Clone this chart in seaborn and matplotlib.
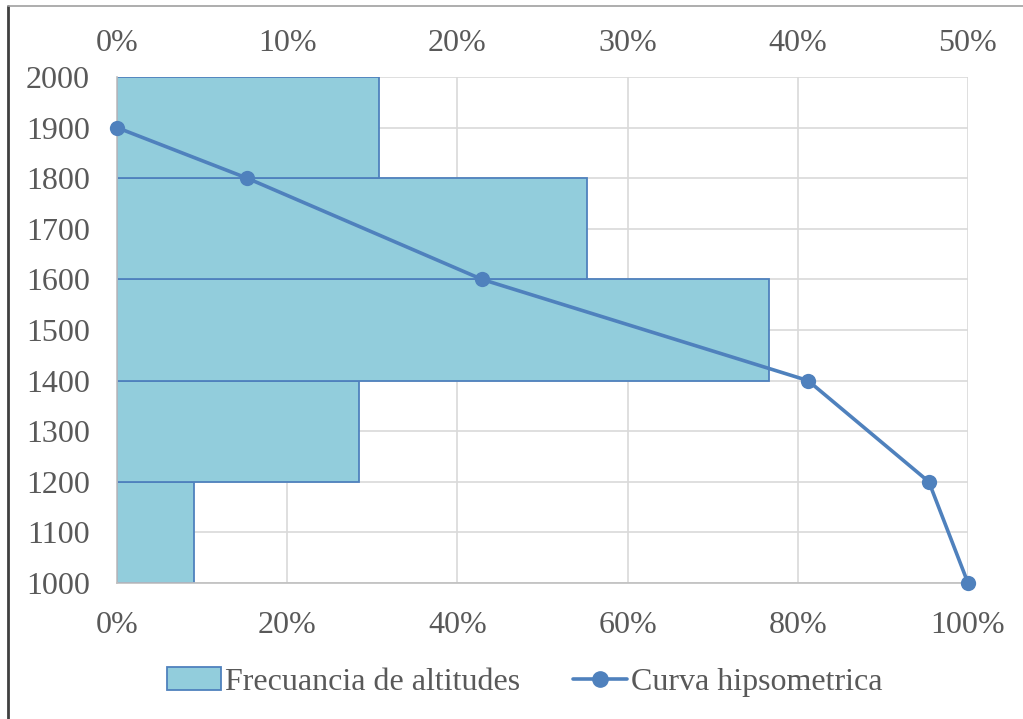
import numpy as np
import pandas as pd
import matplotlib.pyplot as plt
import seaborn as sns
from matplotlib.ticker import PercentFormatter
from matplotlib.patches import Patch
from matplotlib.lines import Line2D

# altitude classes (lower edge of each 200 m band) and share of area
alt_lower = [1000, 1200, 1400, 1600, 1800]
alt_upper = [1200, 1400, 1600, 1800, 2000]
frecuencia = [0.045, 0.142, 0.383, 0.276, 0.154]

# hypsometric curve points
curva_pct = [0.0, 0.153, 0.429, 0.812, 0.954, 1.0]
curva_alt = [1900, 1800, 1600, 1400, 1200, 1000]

bar_fill = '#92CDDC'
bar_edge = '#4F81BD'
line_col = '#4F81BD'
txt_col = '#595959'
grid_col = '#D9D9D9'
fs = 23

sns.set_theme(style='white')
plt.rcParams['font.family'] = ['Liberation Serif', 'DejaVu Serif']
plt.rcParams['text.color'] = txt_col

fig = plt.figure(figsize=(10.23, 7.19), dpi=100)
ax = fig.add_axes([117 / 1023, 1 - 583 / 719, (968 - 117) / 1023, (583 - 77) / 719])

# histogram of altitudes (horizontal, on the top 0-50% axis)
mids = [(a + b) / 2 for a, b in zip(alt_lower, alt_upper)]
bins = alt_lower + [alt_upper[-1]]
df_bars = pd.DataFrame({'alt': mids, 'freq': frecuencia})
sns.histplot(data=df_bars, y='alt', weights='freq', bins=bins, ax=ax,
             color=bar_fill, edgecolor=bar_edge, linewidth=1.3, alpha=1)
ax.set_xlim(0, 0.5)
ax.set_ylim(1000, 2000)
ax.set_yticks(np.arange(1000, 2001, 100))
ax.set_xticks(np.arange(0, 0.51, 0.1))
ax.xaxis.set_major_formatter(PercentFormatter(1.0, decimals=0))
ax.set_xlabel('')
ax.set_ylabel('')
ax.set_axisbelow(True)
ax.grid(True, color=grid_col, linewidth=1.2)
for s in ['top', 'right']:
    ax.spines[s].set_visible(False)
for s in ['left', 'bottom']:
    ax.spines[s].set_color('#BFBFBF')
    ax.spines[s].set_linewidth(1.2)

# hypsometric curve on the bottom 0-100% axis
ax2 = ax.twiny()
df_line = pd.DataFrame({'pct': curva_pct, 'alt': curva_alt})
sns.lineplot(data=df_line, x='pct', y='alt', ax=ax2, color=line_col,
             linewidth=2.6, marker='o', markersize=11, markeredgewidth=0,
             sort=False, estimator=None, clip_on=False)
ax2.set_xlim(0, 1)
ax2.set_ylim(1000, 2000)
ax2.set_xticks(np.arange(0, 1.01, 0.2))
ax2.xaxis.set_major_formatter(PercentFormatter(1.0, decimals=0))
ax2.xaxis.tick_bottom()
ax2.set_xlabel('')
ax2.set_ylabel('')
ax2.tick_params(axis='x', length=0, pad=20, labelsize=fs, colors=txt_col)
for s in ax2.spines.values():
    s.set_visible(False)

# twiny moves the main axis ticks, so put them on top afterwards
ax.xaxis.tick_top()
ax.tick_params(axis='x', length=0, pad=14, labelsize=fs, colors=txt_col)
ax.tick_params(axis='y', length=0, pad=19.5, labelsize=fs, colors=txt_col)

handles = [
    Patch(facecolor=bar_fill, edgecolor=bar_edge, linewidth=1.3),
    Line2D([0], [0], color=line_col, linewidth=2.6, marker='o', markersize=11),
]
fig.legend(handles, ['Frecuancia de altitudes', 'Curva hipsometrica'],
           loc='center', bbox_to_anchor=(0.513, 1 - 682 / 719), ncol=2,
           frameon=False, fontsize=fs, handlelength=1.7, handleheight=0.7,
           handletextpad=0.13, columnspacing=1.63, labelcolor=txt_col)

# chart frame edges
fig.add_artist(Line2D([8 / 1023, 8 / 1023], [0, 1 - 6 / 719], color='#404040', linewidth=2))
fig.add_artist(Line2D([8 / 1023, 1], [1 - 6 / 719, 1 - 6 / 719], color='#A0A0A0', linewidth=1.2))

fig.savefig('out.png', dpi=100)
